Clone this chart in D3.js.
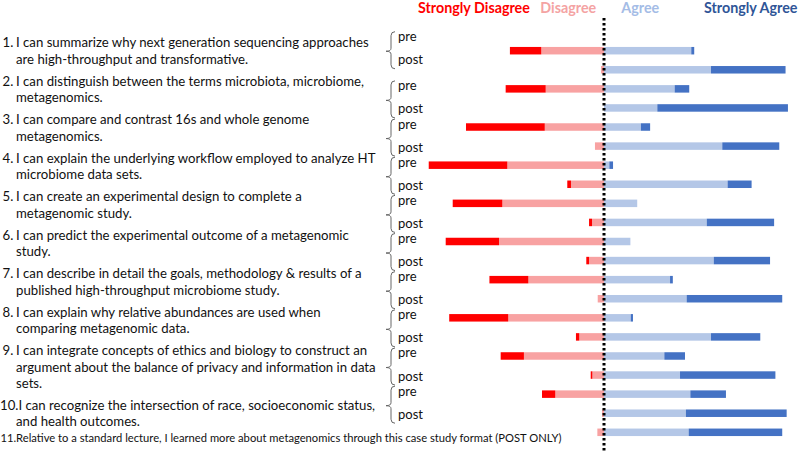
<!DOCTYPE html>
<html>
<head>
<meta charset="utf-8">
<script src="https://cdn.jsdelivr.net/npm/d3@7"></script>
<style>
  html, body { margin: 0; padding: 0; background: #fff; }
  svg { display: block; }
  text { font-family: Lato, "Open Sans", sans-serif; }
</style>
</head>
<body>
<svg id="chart" width="798" height="452"></svg>
<script>
// ---------------- DATA (percent of respondents) ----------------
const questionNumbers = ["1.", "2.", "3.", "4.", "5.", "6.", "7.", "8.", "9.", "10."];
const questions = [
  ["I can summarize why next generation sequencing approaches", "are high-throughput and transformative."],
  ["I can distinguish between the terms microbiota, microbiome,", "metagenomics."],
  ["I can compare and contrast 16s and whole genome", "metagenomics."],
  ["I can explain the underlying workflow employed to analyze HT", "microbiome data sets."],
  ["I can create an experimental design to complete a", "metagenomic study."],
  ["I can predict the experimental outcome of a metagenomic", "study."],
  ["I can describe in detail the goals, methodology & results of a", "published high-throughput microbiome study."],
  ["I can explain why relative abundances are used when", "comparing metagenomic data."],
  ["I can integrate concepts of ethics and biology to construct an", "argument about the balance of privacy and information in data", "sets."],
  ["I can recognize the intersection of race, socioeconomic status,", "and health outcomes."]
];
const question11 = "11.Relative to a standard lecture, I learned more about metagenomics through this case study format (POST ONLY)";
const categories = ["Strongly Disagree", "Disagree", "Agree", "Strongly Agree"];
const phases = ["pre", "post"];

const preSD  = [17.0, 21.7, 42.7, 42.6, 26.9, 28.9, 21.1, 32.0, 12.6,  7.2];
const preD   = [34.0, 31.6, 32.1, 52.4, 55.1, 56.9, 41.0, 51.9, 43.4, 26.4];
const preA   = [47.3, 38.3, 20.0,  2.9, 18.0, 14.3, 35.8, 14.5, 32.7, 46.8];
const preSA  = [ 1.6,  7.9,  5.0,  2.0,  0.0,  0.0,  1.5,  1.2, 11.2, 19.3];
// post: items 1-10 plus item 11 (post only)
const postSD = [ 0.0,  0.0,  0.0,  2.0,  1.6,  1.5,  0.0,  1.8,  0.9,  0.0,  0.0];
const postD  = [ 1.6,  0.0,  4.9, 17.9,  6.5,  8.1,  3.4, 13.4,  6.3,  1.1,  3.6];
const postA  = [58.0, 28.9, 64.1, 67.0, 55.7, 59.5, 44.8, 58.0, 41.2, 44.4, 45.9];
const postSA = [40.4, 70.8, 30.9, 13.0, 36.5, 30.5, 51.8, 26.7, 51.7, 54.6, 50.7];

const colors = ["#FF0000", "#F8A2A2", "#B4C7E7", "#4472C4"];
const headerColors = ["#FF0000", "#F4A3A3", "#A4BCE6", "#2F5597"];

// ---------------- BUILD ROWS ----------------
const rows = [];
for (let i = 0; i < 10; i++) {
  rows.push({ key: `q${i+1}-pre`, item: i, phase: "pre", v: [preSD[i], preD[i], preA[i], preSA[i]] });
  rows.push({ key: `q${i+1}-post`, item: i, phase: "post", v: [postSD[i], postD[i], postA[i], postSA[i]] });
}
rows.push({ key: "q11-post", item: 10, phase: "post", v: [postSD[10], postD[10], postA[10], postSA[10]] });

// ---------------- SCALES ----------------
const zeroX = 604, half = 184.5;
const x = d3.scaleLinear().domain([-100, 100]).range([zeroX - half, zeroX + half]);
const y = d3.scalePoint().domain(rows.map(r => r.key)).range([50.7, 432.3]);
const barH = 7.5;

const svg = d3.select("#chart");

// ---------------- BARS ----------------
const segs = [];
rows.forEach(r => {
  const [sd, d, a, sa] = r.v;
  segs.push({ row: r, cat: 1, x0: -d, x1: 0 });
  segs.push({ row: r, cat: 0, x0: -(d + sd), x1: -d });
  segs.push({ row: r, cat: 2, x0: 0, x1: a });
  segs.push({ row: r, cat: 3, x0: a, x1: a + sa });
});
svg.append("g").selectAll("rect")
  .data(segs.filter(s => s.x1 - s.x0 > 0))
  .join("rect")
  .attr("x", s => x(s.x0))
  .attr("width", s => x(s.x1) - x(s.x0))
  .attr("y", s => y(s.row.key) - barH / 2)
  .attr("height", barH)
  .attr("fill", s => colors[s.cat]);

// ---------------- ZERO LINE ----------------
svg.append("line")
  .attr("x1", x(0)).attr("x2", x(0))
  .attr("y1", 18).attr("y2", 452)
  .attr("stroke", "#000").attr("stroke-width", 3)
  .attr("stroke-dasharray", "2.5,2.5");

// ---------------- HEADER ----------------
const headerX = [418, 540.3, 621.3, 704];
svg.append("g").selectAll("text")
  .data(categories)
  .join("text")
  .attr("x", (d, i) => headerX[i])
  .attr("y", 13)
  .attr("font-size", 14.3)
  .attr("font-weight", "bold")
  .attr("fill", (d, i) => headerColors[i])
  .text(d => d);

// ---------------- PRE / POST LABELS + BRACES ----------------
const firstGroupNudge = -11;
const braceX = 391;
const labG = svg.append("g");
for (let i = 0; i < 10; i++) {
  const nudge = i === 0 ? firstGroupNudge : 0;
  const preY = y(`q${i+1}-pre`) - 3 + nudge;
  const postY = y(`q${i+1}-post`) + 1 + nudge;
  labG.append("text").attr("x", 398).attr("y", preY + 4.5).attr("font-size", 13).attr("fill", "#111").text(phases[0]);
  labG.append("text").attr("x", 398).attr("y", postY + 4.5).attr("font-size", 13).attr("fill", "#111").text(phases[1]);
  const top = preY - 5, bot = postY + 9, mid = (top + bot) / 2 + 1;
  const p = `M${braceX + 4},${top} Q${braceX},${top} ${braceX},${top + 4} L${braceX},${mid - 3} Q${braceX},${mid} ${braceX - 5},${mid} Q${braceX},${mid} ${braceX},${mid + 3} L${braceX},${bot - 4} Q${braceX},${bot} ${braceX + 4},${bot}`;
  labG.append("path").attr("d", p).attr("fill", "none").attr("stroke", "#666").attr("stroke-width", 1);
}

// ---------------- QUESTIONS ----------------
const lineStep = 16.3, itemStep = 22.2, qSize = 13.2;
const qG = svg.append("g").attr("fill", "#111");
let cy = 42.7;
questions.forEach((lines, i) => {
  if (i === 9) {
    qG.append("text").attr("x", 0).attr("y", cy + 4.5).attr("font-size", qSize).text(questionNumbers[i] + lines[0]);
  } else {
    qG.append("text").attr("x", 2.5).attr("y", cy + 4.5).attr("font-size", qSize).text(questionNumbers[i]);
    qG.append("text").attr("x", 16).attr("y", cy + 4.5).attr("font-size", qSize).text(lines[0]);
  }
  lines.slice(1).forEach((ln, j) => {
    qG.append("text").attr("x", 16).attr("y", cy + (j + 1) * lineStep + 4.5).attr("font-size", qSize).text(ln);
  });
  cy += (lines.length - 1) * lineStep + itemStep;
});
cy = cy - itemStep + lineStep;
qG.append("text").attr("x", 0.5).attr("y", cy + 4).attr("font-size", 11.2).text(question11);
</script>
</body>
</html>
